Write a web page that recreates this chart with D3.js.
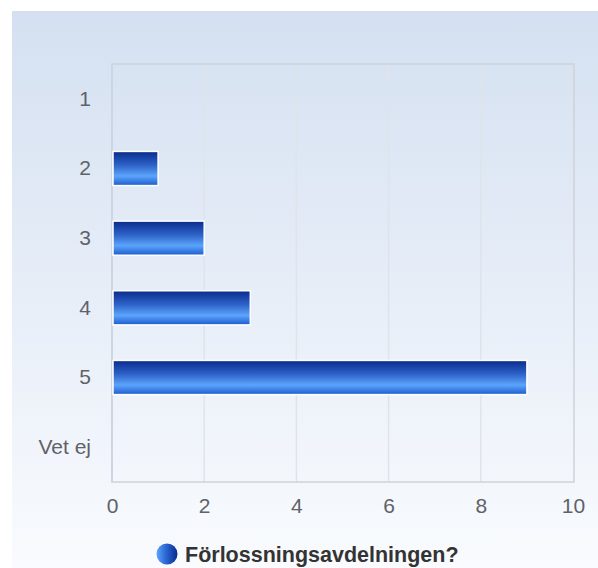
<!DOCTYPE html>
<html><head><meta charset="utf-8">
<script src="https://cdn.jsdelivr.net/npm/d3@7/dist/d3.min.js"></script>
<style>body{margin:0;background:#fff;}svg{display:block;}</style>
</head><body>
<script>
const categories = ["1", "2", "3", "4", "5", "Vet ej"];
const values = [0, 1, 2, 3, 9, 0];
const xTicks = [0, 2, 4, 6, 8, 10];
const seriesName = "Förlossningsavdelningen?";

const W = 598, H = 568;
const svg = d3.select("body").append("svg").attr("width", W).attr("height", H);
const defs = svg.append("defs");
const bg = defs.append("linearGradient").attr("id", "bg").attr("x1", 0).attr("y1", 0).attr("x2", 0).attr("y2", 1);
bg.append("stop").attr("offset", "0%").attr("stop-color", "#d4e0f1");
bg.append("stop").attr("offset", "100%").attr("stop-color", "#f9fbfe");
const barG = defs.append("linearGradient").attr("id", "bar").attr("x1", 0).attr("y1", 0).attr("x2", 0).attr("y2", 1);
barG.append("stop").attr("offset", "0%").attr("stop-color", "#0a2b8c");
barG.append("stop").attr("offset", "40%").attr("stop-color", "#2d62c8");
barG.append("stop").attr("offset", "72%").attr("stop-color", "#5ca4fb");
barG.append("stop").attr("offset", "100%").attr("stop-color", "#1b5bd0");
const leg = defs.append("linearGradient").attr("id", "leg").attr("x1", 0).attr("y1", 0).attr("x2", 1).attr("y2", 0);
leg.append("stop").attr("offset", "0%").attr("stop-color", "#5ca4fb");
leg.append("stop").attr("offset", "45%").attr("stop-color", "#2a66d4");
leg.append("stop").attr("offset", "100%").attr("stop-color", "#0a2b8c");

svg.append("rect").attr("x", 12).attr("y", 11).attr("width", W - 12).attr("height", H - 11).attr("fill", "url(#bg)");

const pL = 112, pR = 573, pT = 64, pB = 482;
const x = d3.scaleLinear().domain([0, 10]).range([pL, pR]);
const y = d3.scaleBand().domain(categories).range([pT, pB]).paddingInner(0.51).paddingOuter(0.255);

// grid
svg.append("g").selectAll("line").data(xTicks.filter(t => t > 0 && t < 10)).join("line")
  .attr("x1", d => x(d)).attr("x2", d => x(d)).attr("y1", pT).attr("y2", pB)
  .attr("stroke", "#dfe3ea").attr("stroke-width", 1.5);

// border
svg.append("rect").attr("x", pL).attr("y", pT).attr("width", pR - pL + 1).attr("height", pB - pT)
  .attr("fill", "none").attr("stroke", "#cfd2d8").attr("stroke-width", 1.5);
svg.append("line").attr("x1", pL).attr("x2", pL).attr("y1", pT).attr("y2", pB)
  .attr("stroke", "#cdd5e3").attr("stroke-width", 2);

// bars
svg.append("g").selectAll("rect").data(categories.map((c, i) => ({c, v: values[i]})).filter(d => d.v > 0)).join("rect")
  .attr("x", x(0) + 1).attr("y", d => y(d.c))
  .attr("width", d => x(d.v) - x(0) - 1).attr("height", y.bandwidth())
  .attr("fill", "url(#bar)").attr("stroke", "#ffffff").attr("stroke-width", 1.5);

// y axis labels
const yAxis = d3.axisLeft(y).tickSize(0).tickPadding(21);
const gy = svg.append("g").attr("transform", `translate(${pL},0)`).call(yAxis);
gy.select(".domain").remove();
gy.selectAll("text").attr("font-family", "Liberation Sans, Arial, sans-serif").attr("font-size", 21).attr("fill", "#606268");

// x axis labels
const xAxis = d3.axisBottom(x).tickValues(xTicks).tickSize(0).tickPadding(16);
const gx = svg.append("g").attr("transform", `translate(0,${pB})`).call(xAxis);
gx.select(".domain").remove();
gx.selectAll("text").attr("font-family", "Liberation Sans, Arial, sans-serif").attr("font-size", 21).attr("fill", "#606268");

// legend
svg.append("circle").attr("cx", 167).attr("cy", 554).attr("r", 10.5).attr("fill", "url(#leg)");
svg.append("text").attr("x", 185).attr("y", 561.5).text(seriesName)
  .attr("font-family", "Liberation Sans, Arial, sans-serif").attr("font-weight", "bold").attr("font-size", 21.5).attr("fill", "#333");
</script>
</body></html>
